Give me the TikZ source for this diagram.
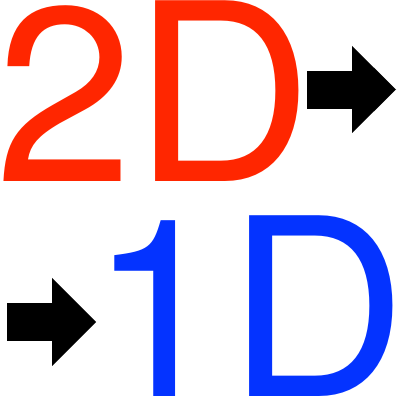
\documentclass[tikz,border=0pt]{standalone}
\usepackage{fontspec}
\setmainfont{TeX Gyre Heros}
\definecolor{redtxt}{RGB}{255,38,0}
\definecolor{bluetxt}{RGB}{4,51,255}
\tikzset{bigtext/.style={inner sep=0pt, outer sep=0pt, anchor=base west, font=\fontsize{248}{290}\selectfont}}
\begin{document}
\begin{tikzpicture}[x=1pt,y=1pt]
\useasboundingbox (0,0) rectangle (400,400);
\node[bigtext, text=redtxt] (twoD) at (-4.7,218) {2D};
\node[bigtext, text=bluetxt] (oneD) at (89.5,3) {1D};
% top arrow
\fill[black] (307,291) rectangle (352,329);
\fill[black] (352,354) -- (352,267) -- (396,310.5) -- cycle;
% bottom arrow
\fill[black] (7,59) rectangle (52,97);
\fill[black] (52,122) -- (52,34) -- (96,78) -- cycle;
\end{tikzpicture}
\end{document}
